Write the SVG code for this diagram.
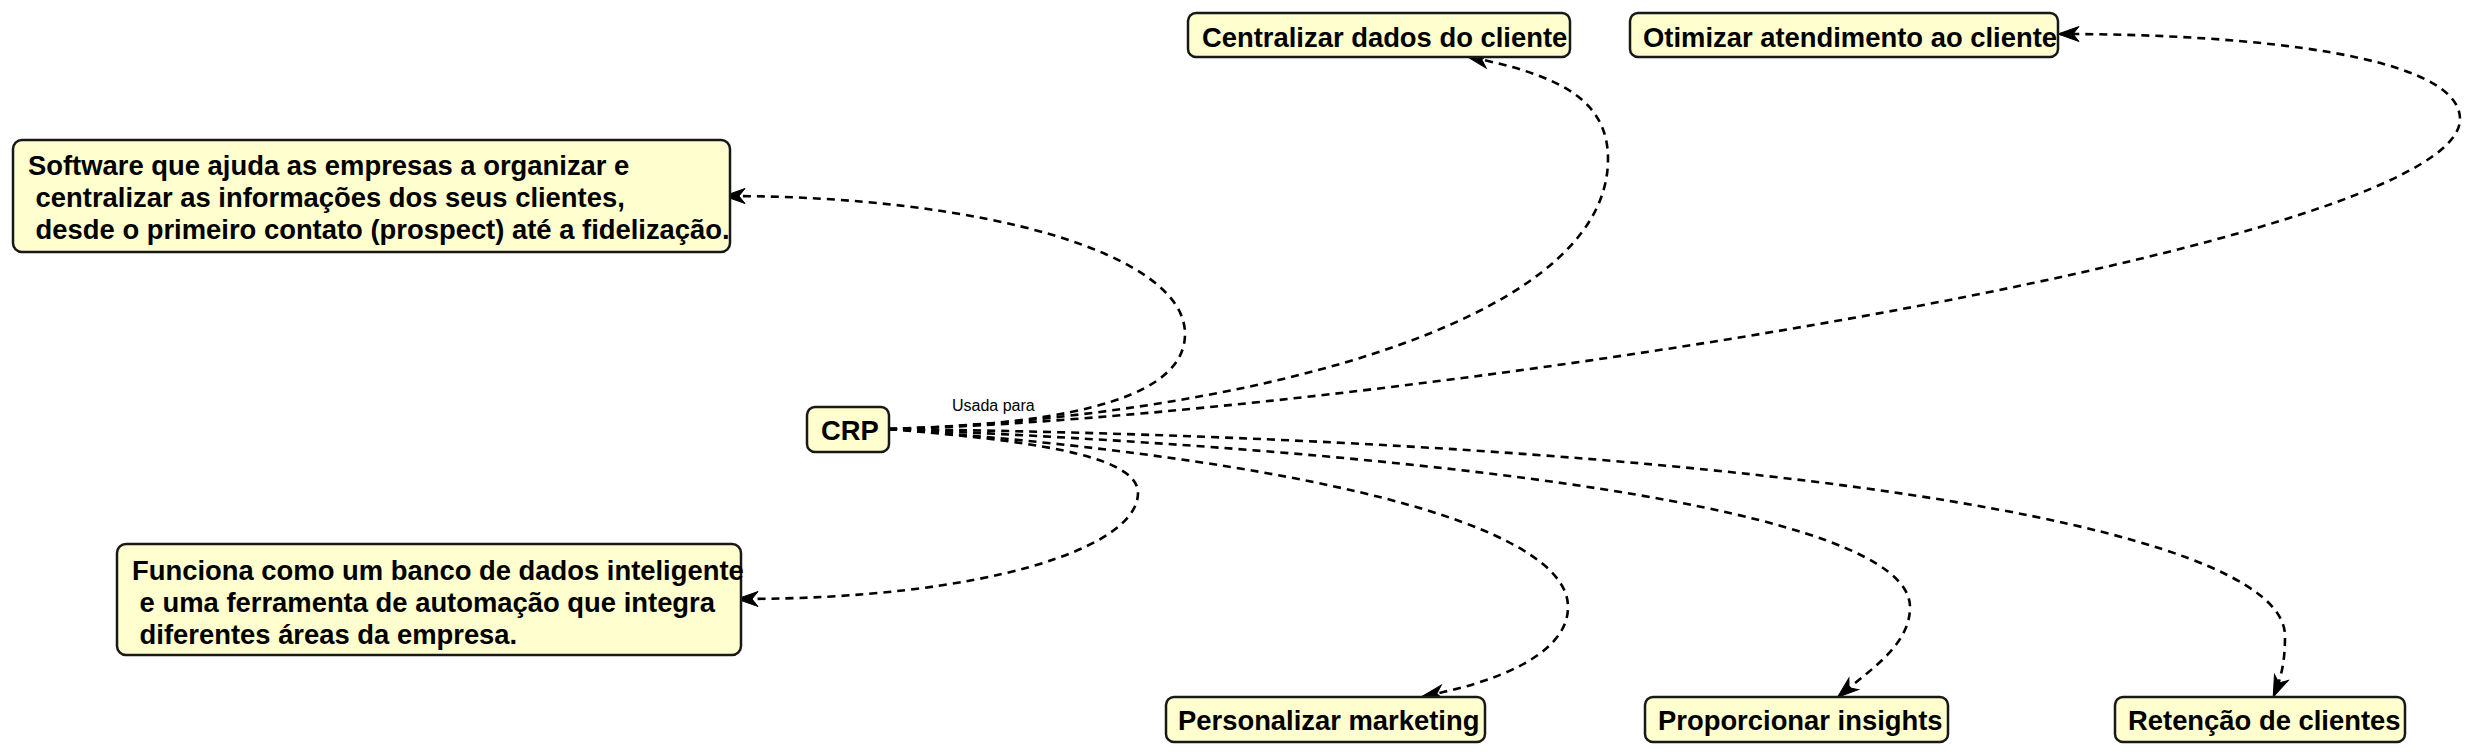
<svg xmlns="http://www.w3.org/2000/svg" width="2492" height="754" viewBox="0 0 2492 754">
<style>
.box{fill:#FEFECE;stroke:#181818;stroke-width:2.5}
.t{font-family:"Liberation Sans",Arial,sans-serif;font-weight:bold;font-size:27.4px;fill:#000}
.lbl{font-family:"Liberation Sans",Arial,sans-serif;font-size:16px;fill:#000}
.e{fill:none;stroke:#000;stroke-width:2.6;stroke-dasharray:8,6}
</style>
<defs>
<marker id="ah" markerUnits="userSpaceOnUse" markerWidth="26" markerHeight="18" viewBox="-22 -9 26 18" refX="0" refY="0" orient="auto">
<path d="M2,0 L-19,-7.5 L-13,0 L-19,7.5 Z" fill="#000" stroke="#000" stroke-width="1"/>
</marker>
</defs>
<rect width="2492" height="754" fill="#fff"/>
<g id="connectors">
<path class="e" marker-end="url(#ah)" d="M889,429 C1090,424 1185,392 1185,334 C1185,254 985,196 726,196"/>
<path class="e" marker-end="url(#ah)" d="M889,429 C1017,440 1138,453 1138,493 C1138,548 985,599 739,599"/>
<path class="e" marker-end="url(#ah)" d="M889,429 C1220,418 1608,330 1608,159 C1608,100 1560,75 1469,57"/>
<path class="e" marker-end="url(#ah)" d="M889,429 C1350,418 2460,250 2460,119 C2460,56 2256,34 2060,34"/>
<path class="e" marker-end="url(#ah)" d="M889,429 C1303,459 1568,524 1568,607 C1568,655 1494,683 1424,696"/>
<path class="e" marker-end="url(#ah)" d="M889,429 C1430,451 1910,508 1910,607 C1910,644 1873,668 1839,696"/>
<path class="e" marker-end="url(#ah)" d="M889,429 C1748,440 2285,524 2285,636 C2285,660 2282,676 2274,695"/>
<text class="lbl" x="952" y="411">Usada para</text>
</g>
<g id="crp">
<rect class="box" x="807" y="407" width="82" height="45" rx="8"/>
<text class="t" x="821" y="440">CRP</text>
</g>
<g id="software">
<rect class="box" x="13" y="140" width="717" height="112" rx="9"/>
<text class="t" xml:space="preserve"><tspan x="28" y="175">Software que ajuda as empresas a organizar e</tspan><tspan x="28" y="207"> centralizar as informações dos seus clientes,</tspan><tspan x="28" y="239"> desde o primeiro contato (prospect) até a fidelização.</tspan></text>
</g>
<g id="funciona">
<rect class="box" x="117" y="544" width="624" height="111" rx="9"/>
<text class="t" xml:space="preserve"><tspan x="132" y="580">Funciona como um banco de dados inteligente</tspan><tspan x="132" y="612"> e uma ferramenta de automação que integra</tspan><tspan x="132" y="644"> diferentes áreas da empresa.</tspan></text>
</g>
<g id="centralizar">
<rect class="box" x="1188" y="13" width="382" height="44" rx="8"/>
<text class="t" x="1202" y="47">Centralizar dados do cliente</text>
</g>
<g id="otimizar">
<rect class="box" x="1630" y="13" width="428" height="44" rx="8"/>
<text class="t" x="1643" y="47">Otimizar atendimento ao cliente</text>
</g>
<g id="personalizar">
<rect class="box" x="1166" y="697" width="319" height="45" rx="8"/>
<text class="t" x="1178" y="730">Personalizar marketing</text>
</g>
<g id="proporcionar">
<rect class="box" x="1645" y="697" width="303" height="45" rx="8"/>
<text class="t" x="1658" y="730">Proporcionar insights</text>
</g>
<g id="retencao">
<rect class="box" x="2115" y="697" width="290" height="45" rx="8"/>
<text class="t" x="2128" y="730">Retenção de clientes</text>
</g>
</svg>
